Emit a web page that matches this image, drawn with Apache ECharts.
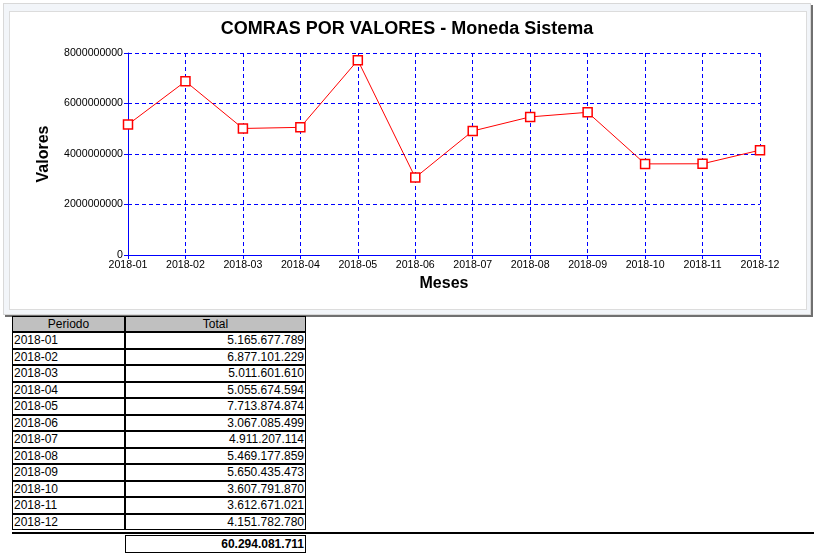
<!DOCTYPE html>
<html>
<head>
<meta charset="utf-8">
<script src="https://cdn.jsdelivr.net/npm/echarts@6/dist/echarts.min.js"></script>
<style>
  html, body { margin: 0; padding: 0; background: #fff; width: 814px; height: 559px; overflow: hidden; font-family: Arial, "Liberation Sans", sans-serif; }
  #panel { position: absolute; left: 3px; top: 3px; width: 806px; height: 310px; background: #f2f5f9; border: 1px solid #d8d8d8; box-shadow: 2px 2px 0 #707070; }
  #inner { position: absolute; left: 9px; top: 11px; width: 796px; height: 297px; background: #fff; border: 1px solid #dcdcdc; }
  #chart { position: absolute; left: 0; top: 0; width: 814px; height: 316px; }
  table.data { position: absolute; left: 12px; top: 316px; border-collapse: separate; border-spacing: 0; font-size: 12px; }
  table.data td, table.data th { border: 1px solid #000; height: 16.5px; box-sizing: border-box; padding: 0 1px; line-height: 13px; font-weight: normal; white-space: nowrap; }
  table.data th { background: #c0c0c0; text-align: center; height: 16.4px; }
  td.c1 { width: 113px; text-align: left; }
  td.c2 { width: 181px; text-align: right; }
  #sep { position: absolute; left: 12px; top: 532px; width: 802px; height: 2px; background: #000; }
  #total { position: absolute; left: 125px; top: 535px; width: 181px; height: 18px; box-sizing: border-box; border: 1px solid #000; font-size: 12px; font-weight: bold; text-align: right; line-height: 16px; padding-right: 1px; }
</style>
</head>
<body>
<div id="panel"></div>
<div id="inner"></div>
<div id="chart"></div>
<table class="data" id="tbl"></table>
<div id="sep"></div>
<div id="total"></div>
<script>
var months = ['2018-01','2018-02','2018-03','2018-04','2018-05','2018-06','2018-07','2018-08','2018-09','2018-10','2018-11','2018-12'];
var totals = [5165677789, 6877101229, 5011601610, 5055674594, 7713874874, 3067085499, 4911207114, 5469177859, 5650435473, 3607791870, 3612671021, 4151782780];
var grandTotal = 60294081711;
var yTicks = [0, 2000000000, 4000000000, 6000000000, 8000000000];
var titleText = 'COMRAS POR VALORES - Moneda Sistema';
var xName = 'Meses';
var yName = 'Valores';
var headers = ['Periodo', 'Total'];

function fmt(n) {
  return String(n).replace(/\B(?=(\d{3})+(?!\d))/g, '.');
}

var chart = echarts.init(document.getElementById('chart'), null, { renderer: 'canvas' });
var blue = '#0000ff';
chart.setOption({
  animation: false,
  backgroundColor: 'transparent',
  title: {
    text: titleText,
    left: 'center',
    top: 15,
    textStyle: { fontFamily: 'Arial', fontSize: 18, fontWeight: 'bold', color: '#000' }
  },
  grid: { left: 128, right: 54, top: 53, bottom: 61, containLabel: false },
  xAxis: {
    type: 'category',
    data: months,
    boundaryGap: false,
    name: xName,
    nameLocation: 'middle',
    nameGap: 21,
    nameTextStyle: { fontFamily: 'Arial', fontSize: 16, fontWeight: 'bold', color: '#000', verticalAlign: 'top' },
    axisLine: { show: true, lineStyle: { color: blue, width: 1 } },
    axisTick: { show: true, length: 4, alignWithLabel: true, lineStyle: { color: blue } },
    axisLabel: { color: '#000', fontFamily: 'Arial', fontSize: 10.6, margin: 5, interval: 0 },
    splitLine: { show: true, lineStyle: { color: blue, type: [4, 3], width: 1 } }
  },
  yAxis: {
    type: 'value',
    min: yTicks[0],
    max: yTicks[yTicks.length - 1],
    interval: yTicks[1] - yTicks[0],
    name: yName,
    nameLocation: 'middle',
    nameGap: 76,
    nameRotate: 90,
    nameTextStyle: { fontFamily: 'Arial', fontSize: 16, fontWeight: 'bold', color: '#000' },
    axisLine: { show: true, lineStyle: { color: blue, width: 1 } },
    axisTick: { show: true, length: 4, lineStyle: { color: blue } },
    axisLabel: { color: '#000', fontFamily: 'Arial', fontSize: 10.6, margin: 5, formatter: function (v) { return String(v); } },
    splitLine: { show: true, lineStyle: { color: blue, type: [4, 3], width: 1 } }
  },
  series: [{
    type: 'line',
    data: totals,
    symbol: 'rect',
    symbolSize: 9,
    showAllSymbol: true,
    lineStyle: { color: '#ff0000', width: 1 },
    itemStyle: { color: '#ffffff', borderColor: '#ff0000', borderWidth: 1.5 },
    emphasis: { disabled: true },
    z: 5
  }]
});

var tbl = document.getElementById('tbl');
var html = '<tr><th class="c1" style="width:113px">' + headers[0] + '</th><th style="width:181px">' + headers[1] + '</th></tr>';
for (var i = 0; i < months.length; i++) {
  html += '<tr><td class="c1">' + months[i] + '</td><td class="c2">' + fmt(totals[i]) + '</td></tr>';
}
tbl.innerHTML = html;
document.getElementById('total').textContent = fmt(grandTotal);
</script>
</body>
</html>
